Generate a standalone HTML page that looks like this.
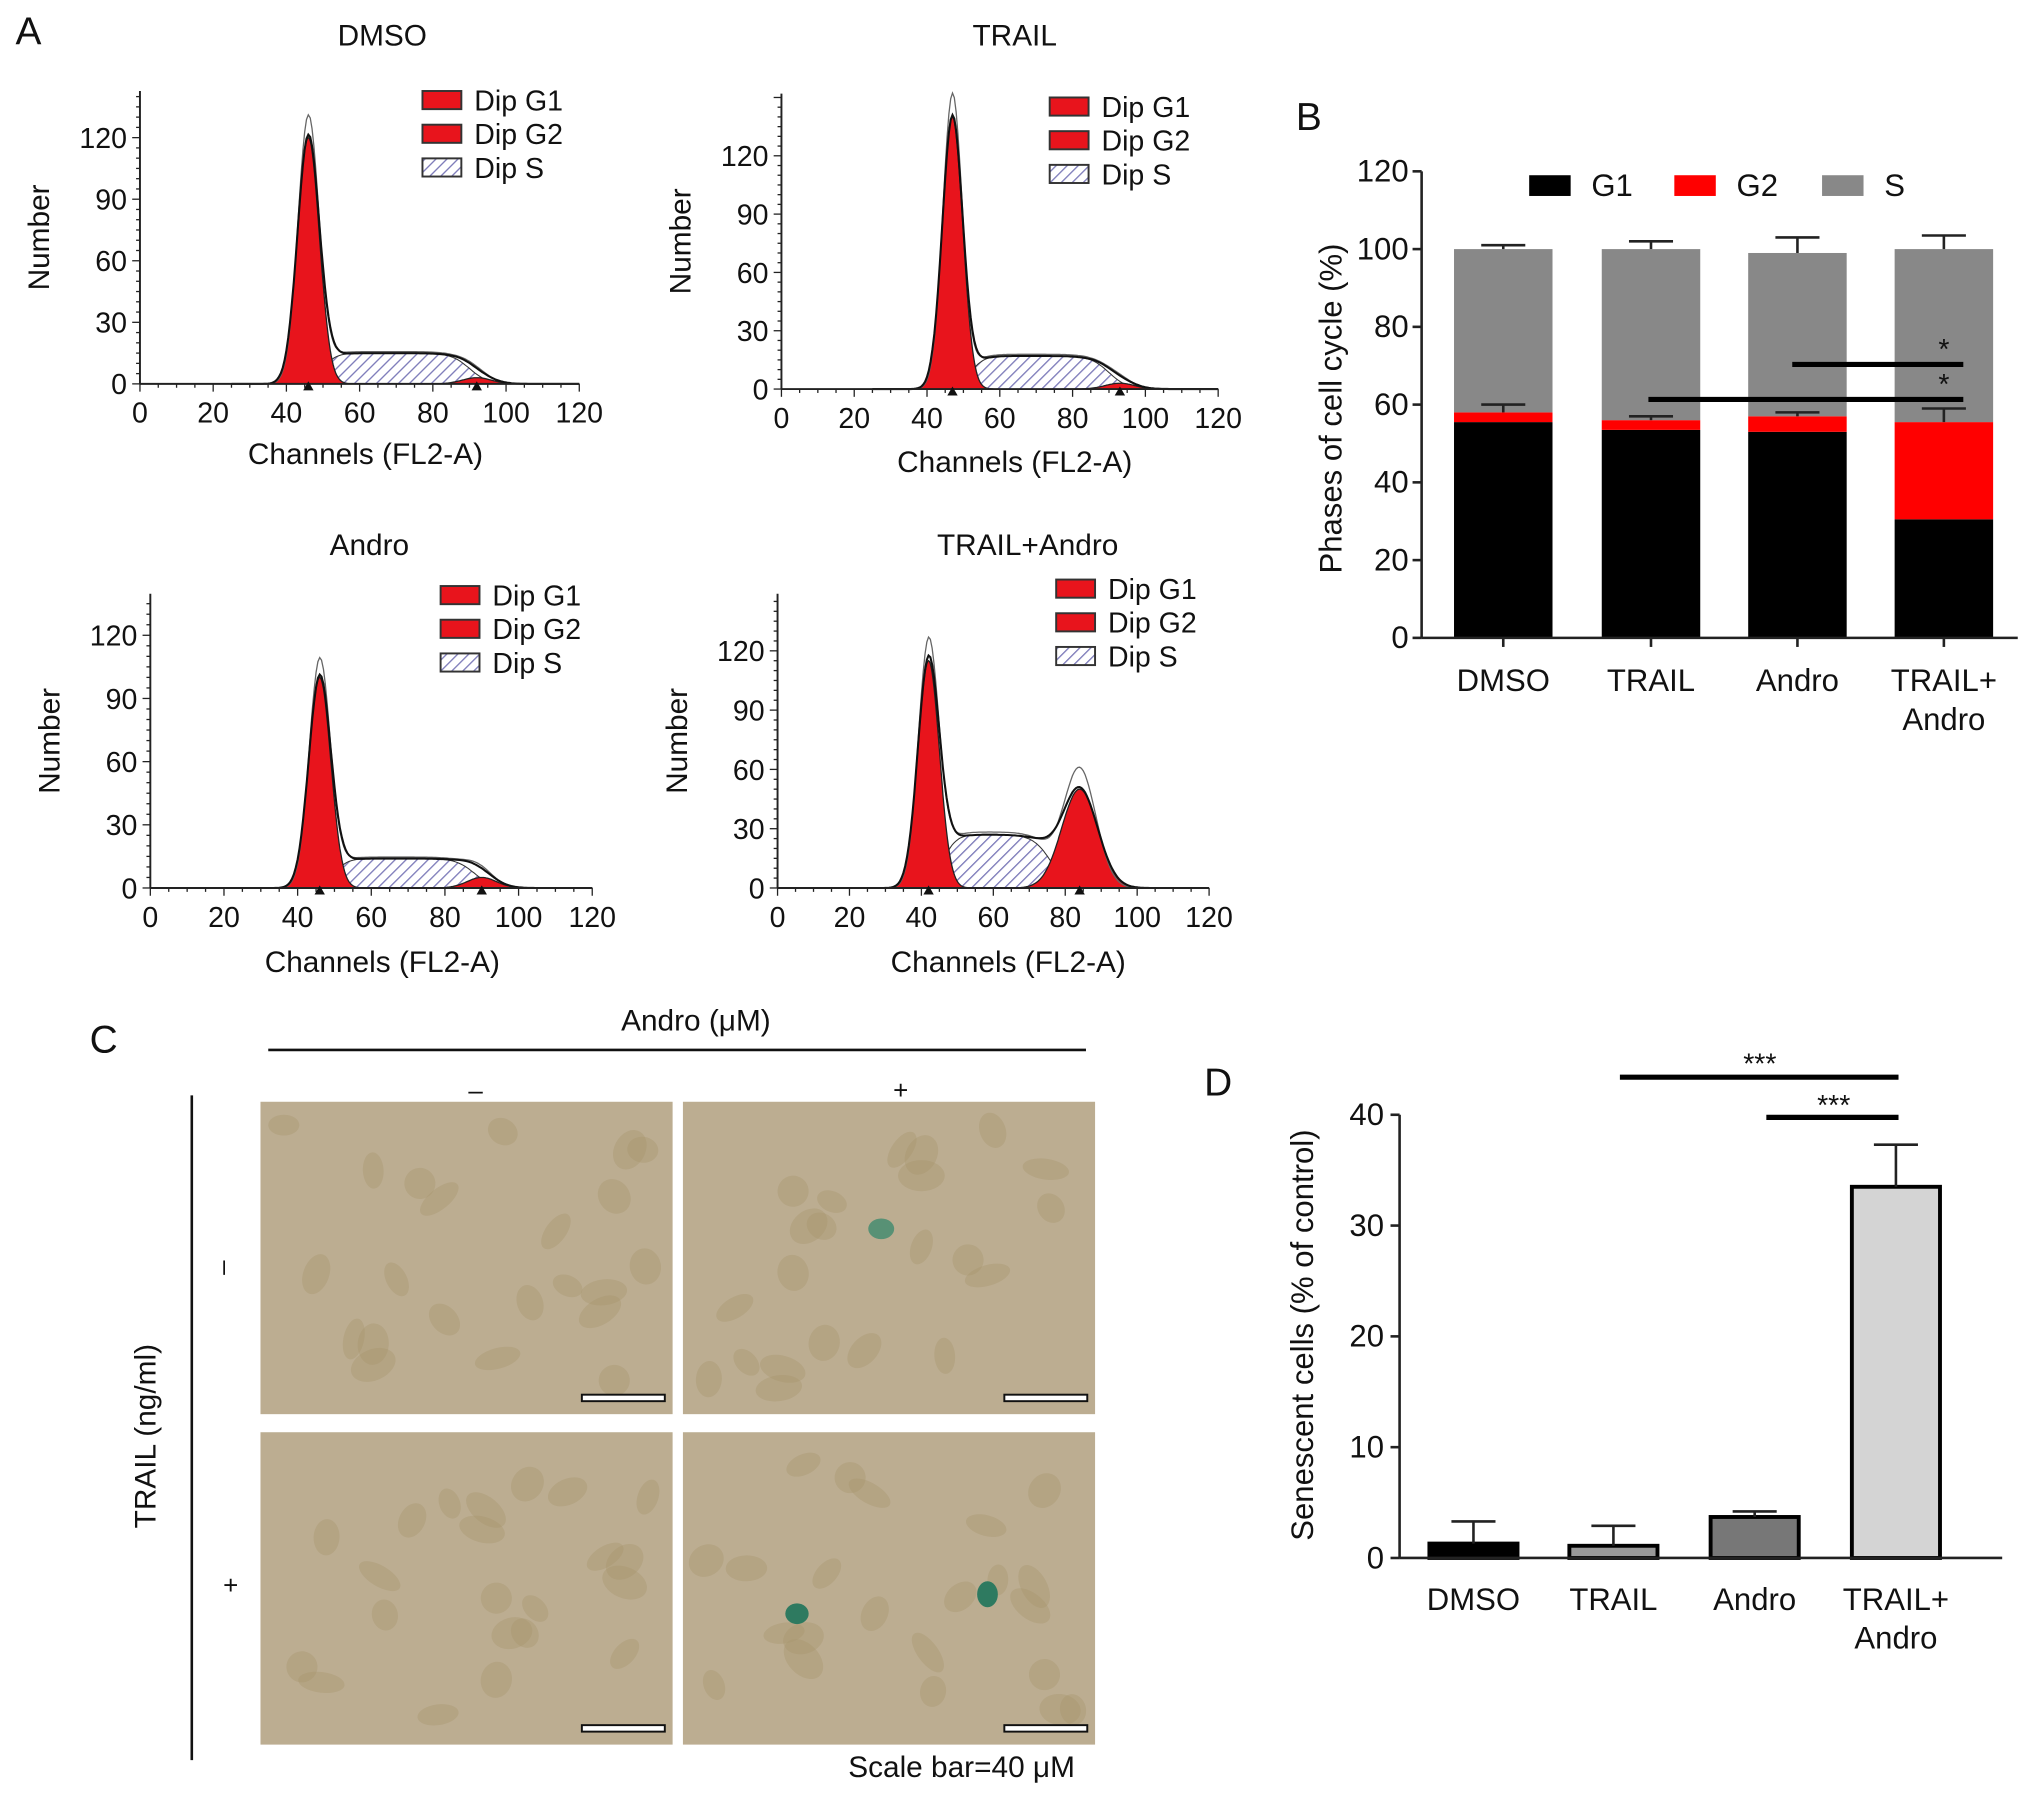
<!DOCTYPE html>
<html><head><meta charset="utf-8"><style>
html,body{margin:0;padding:0;background:#fff;}
svg{display:block;font-family:"Liberation Sans",sans-serif;}
</style></head><body>
<svg id="fig" width="2032" height="1798" viewBox="0 0 1568 1387" xmlns="http://www.w3.org/2000/svg">
<defs>
<pattern id="hatch" width="6" height="6" patternUnits="userSpaceOnUse" patternTransform="rotate(45)">
<rect width="6" height="6" fill="#fff"/><line x1="0" y1="0" x2="0" y2="6" stroke="#7a78b8" stroke-width="2"/></pattern>
</defs>
<g id="panelA"></g>
<g id="panelB"></g>
<g id="panelC"></g>
<g id="panelD"></g>
</svg>
<script>
// ---------- Panel A data (model peak parameters) ----------
const histTitles = ["DMSO", "TRAIL", "Andro", "TRAIL+Andro"];
const g1Pos = [46, 47, 46, 42];
const g1Height = [120, 140, 100, 115];
const g1Sd = [3.0, 2.8, 3.0, 3.0];
const sHeight = [15, 17, 14, 27];
const sStart = [50, 52, 50, 46];
const sEnd = [90, 90, 88, 76];
const g2Pos = [92, 93, 90, 84];
const g2Height = [3, 3, 5, 50];
const g2Sd = [4, 4, 4, 5];
const histXTicks = [0, 20, 40, 60, 80, 100, 120];
const histYTicks = [0, 30, 60, 90, 120];
// ---------- Panel B data ----------
const bCats = ["DMSO", "TRAIL", "Andro", "TRAIL+|Andro"];
const bG1 = [55.5, 53.5, 53, 30.5];
const bG2 = [2.5, 2.5, 4, 25];
const bS = [42, 44, 42, 44.5];
const bErrTop = [1, 2, 4, 3.5];
const bErrMid = [2, 1, 1, 3.5];
const bYTicks = [0, 20, 40, 60, 80, 100, 120];
// ---------- Panel D data ----------
const dCats = ["DMSO", "TRAIL", "Andro", "TRAIL+|Andro"];
const dVals = [1.3, 1.1, 3.7, 33.5];
const dErr = [2.0, 1.8, 0.5, 3.8];
const dYTicks = [0, 10, 20, 30, 40];

const NS = "http://www.w3.org/2000/svg";
function mk(parent, tag, attrs, text) {
  const e = document.createElementNS(NS, tag);
  for (const k in attrs) e.setAttribute(k, attrs[k]);
  if (text !== undefined) e.textContent = text;
  parent.appendChild(e);
  return e;
}
function txt(parent, x, y, s, size, name, anchor, extra) {
  const e = mk(parent, "text", Object.assign({x: x, y: y, "font-size": size, "text-anchor": anchor || "middle", fill: "#111"}, extra || {}), s);
  
  
  return e;
}

// ---------- Panel A ----------
const A = document.getElementById("panelA");
txt(A, 22, 34, "A", 30, "panel-label-a");
const layouts = [
  {x0:108, x1:447, y0:296, y120:106, top:70, tx:295, ty:35, lx:326, ly:70, xl:282, xly:358},
  {x0:603, x1:940, y0:300, y120:120, top:72, tx:783, ty:35, lx:810, ly:75, xl:783, xly:364},
  {x0:116, x1:457, y0:685, y120:490, top:458, tx:285, ty:428, lx:340, ly:452, xl:295, xly:750},
  {x0:600, x1:933, y0:685, y120:502, top:458, tx:793, ty:428, lx:815, ly:447, xl:778, xly:750}
];
function gauss(x, m, s, h) { return h * Math.exp(-0.5 * ((x - m) / s) ** 2); }
function splat(x, i) {
  const a = 1 / (1 + Math.exp(-(x - sStart[i]) / 1.8));
  const b = 1 / (1 + Math.exp((x - sEnd[i]) / 2.5));
  return sHeight[i] * a * b;
}
layouts.forEach((L, i) => {
  const g = mk(A, "g", {});
  
  
  const X = v => L.x0 + (L.x1 - L.x0) * v / 120;
  const Y = v => L.y0 - (L.y0 - L.y120) * v / 120;
  txt(g, L.tx, L.ty, histTitles[i], 23, "histogram-title");
  let ps = "M" + X(30) + "," + Y(0);
  for (let v = 30; v <= 110; v += 0.5) ps += " L" + X(v).toFixed(1) + "," + Y(splat(v, i)).toFixed(1);
  ps += " L" + X(110) + "," + Y(0) + "Z";
  const sp = mk(g, "path", {d: ps, fill: "url(#hatch)", stroke: "#333", "stroke-width": 0.8});
   
  [[g1Pos[i], g1Sd[i], g1Height[i], "g1-peak"], [g2Pos[i], g2Sd[i], g2Height[i], "g2-peak"]].forEach(p => {
    let d = "M" + X(p[0] - 4 * p[1]) + "," + Y(0);
    for (let v = p[0] - 4 * p[1]; v <= p[0] + 4 * p[1]; v += 0.25) d += " L" + X(v).toFixed(1) + "," + Y(gauss(v, p[0], p[1], p[2])).toFixed(1);
    d += " L" + X(p[0] + 4 * p[1]) + "," + Y(0) + "Z";
    const pk = mk(g, "path", {d: d, fill: "#e8141c", stroke: "#222", "stroke-width": 1});
     
  });
  let de = "", dr = "";
  for (let v = 25; v <= 120; v += 0.5) {
    const t = gauss(v, g1Pos[i], g1Sd[i], g1Height[i]) + gauss(v, g2Pos[i], g2Sd[i], g2Height[i]) + splat(v, i);
    de += (de ? " L" : "M") + X(v).toFixed(1) + "," + Y(t).toFixed(1);
    const t2 = gauss(v, g1Pos[i], g1Sd[i] * 0.95, g1Height[i] * 1.08) + gauss(v, g2Pos[i], g2Sd[i] * 0.9, g2Height[i] * 1.2) + splat(v, i) * 1.05;
    dr += (dr ? " L" : "M") + X(v).toFixed(1) + "," + Y(t2).toFixed(1);
  }
  const rl = mk(g, "path", {d: dr, fill: "none", stroke: "#666", "stroke-width": 1});
   
  const el = mk(g, "path", {d: de, fill: "none", stroke: "#111", "stroke-width": 1.6});
   
  mk(g, "line", {x1: L.x0, y1: L.y0, x2: L.x1, y2: L.y0, stroke: "#222", "stroke-width": 1.5});
  mk(g, "line", {x1: L.x0, y1: L.y0, x2: L.x0, y2: L.top, stroke: "#222", "stroke-width": 1.5});
  for (let v = 0; v <= 120; v += 5) mk(g, "line", {x1: X(v), y1: L.y0, x2: X(v), y2: L.y0 + (v % 20 === 0 ? 6 : 3), stroke: "#222"});
  for (let v = 0; Y(v) >= L.top; v += 5) mk(g, "line", {x1: L.x0, y1: Y(v), x2: L.x0 - (v % 30 === 0 ? 6 : 3), y2: Y(v), stroke: "#222"});
  histXTicks.forEach(v => txt(g, X(v), L.y0 + 30, String(v), 22, "x-tick-label"));
  histYTicks.forEach(v => txt(g, L.x0 - 10, Y(v) + 8, String(v), 22, "y-tick-label", "end"));
  txt(g, L.xl, L.xly, "Channels (FL2-A)", 23, "x-axis-title");
  txt(g, L.x0 - 70, (L.y0 + L.top) / 2, "Number", 23, "y-axis-title", "middle", {transform: "rotate(-90 " + (L.x0 - 70) + " " + (L.y0 + L.top) / 2 + ")"});
  [g1Pos[i], g2Pos[i]].forEach(v => mk(g, "path", {d: `M${X(v) - 4},${L.y0 + 5} L${X(v) + 4},${L.y0 + 5} L${X(v)},${L.y0 - 2}Z`, fill: "#111"}));
  ["Dip G1", "Dip G2", "Dip S"].forEach((s, k) => {
    const r = mk(g, "rect", {x: L.lx, y: L.ly + 26 * k, width: 30, height: 14, fill: k < 2 ? "#e8141c" : "url(#hatch)", stroke: "#333", "stroke-width": 1.5});
     
    txt(g, L.lx + 40, L.ly + 26 * k + 15, s, 22, "legend-entry", "start");
  });
});

// ---------- Panel B ----------
const B = document.getElementById("panelB");
txt(B, 1010, 100, "B", 30, "panel-label-b");
const bx0 = 1097, bx1 = 1557, by0 = 492, bScale = 3;
const bCenters = [1160, 1274, 1387, 1500];
const BY = v => by0 - v * bScale;
bCats.forEach((c, i) => {
  const cx = bCenters[i], w = 76;
  const segs = [[0, bG1[i], "#000", "bar-g1"], [bG1[i], bG2[i], "#f00", "bar-g2"], [bG1[i] + bG2[i], bS[i], "#888", "bar-s"]];
  segs.forEach(s => {
    const r = mk(B, "rect", {x: cx - w / 2, y: BY(s[0] + s[1]), width: w, height: s[1] * bScale, fill: s[2]});
     
  });
  const top = bG1[i] + bG2[i] + bS[i], mid = bG1[i] + bG2[i];
  [[top, bErrTop[i]], [mid, bErrMid[i]]].forEach(e => {
    mk(B, "line", {x1: cx, y1: BY(e[0]), x2: cx, y2: BY(e[0] + e[1]), stroke: "#222", "stroke-width": 2});
    mk(B, "line", {x1: cx - 17, y1: BY(e[0] + e[1]), x2: cx + 17, y2: BY(e[0] + e[1]), stroke: "#222", "stroke-width": 2});
  });
  mk(B, "line", {x1: cx, y1: by0, x2: cx, y2: by0 + 7, stroke: "#222", "stroke-width": 2});
  c.split("|").forEach((p, k) => txt(B, cx, 533 + 30 * k, p, 24, "x-tick-label"));
});
mk(B, "line", {x1: bx0, y1: by0, x2: bx1, y2: by0, stroke: "#222", "stroke-width": 2});
mk(B, "line", {x1: bx0, y1: by0, x2: bx0, y2: BY(120), stroke: "#222", "stroke-width": 2});
bYTicks.forEach(v => {
  mk(B, "line", {x1: bx0, y1: BY(v), x2: bx0 - 7, y2: BY(v), stroke: "#222", "stroke-width": 2});
  txt(B, bx0 - 10, BY(v) + 8, String(v), 24, "y-tick-label", "end");
});
txt(B, 1035, 315, "Phases of cell cycle (%)", 24, "y-axis-title", "middle", {transform: "rotate(-90 1035 315)"});
[["G1", "#000", 1180], ["G2", "#f00", 1292], ["S", "#888", 1406]].forEach(l => {
  const r = mk(B, "rect", {x: l[2], y: 135, width: 32, height: 16, fill: l[1]});
   
  txt(B, l[2] + 48, 151, l[0], 24, "legend-entry", "start");
});
mk(B, "line", {x1: 1383, y1: 281, x2: 1515, y2: 281, stroke: "#000", "stroke-width": 4});
mk(B, "line", {x1: 1272, y1: 308, x2: 1515, y2: 308, stroke: "#000", "stroke-width": 4});
txt(B, 1500, 277, "*", 22, "significance-marker");
txt(B, 1500, 304, "*", 22, "significance-marker");

// ---------- Panel C ----------
const C = document.getElementById("panelC");
txt(C, 80, 812, "C", 30, "panel-label-c");
txt(C, 537, 795, "Andro (μM)", 23, "column-header-title");
mk(C, "line", {x1: 207, y1: 810, x2: 838, y2: 810, stroke: "#111", "stroke-width": 2});
txt(C, 367, 848, "–", 20, "column-minus");
txt(C, 695, 848, "+", 20, "column-plus");
mk(C, "line", {x1: 148, y1: 845, x2: 148, y2: 1358, stroke: "#111", "stroke-width": 2});
txt(C, 112, 1100, "TRAIL (ng/ml)", 23, "row-header-title", "middle", {transform: "rotate(-90 120 1100)"});
txt(C, 178, 978, "–", 20, "row-minus", "middle", {transform: "rotate(-90 178 978)"});
txt(C, 178, 1230, "+", 20, "row-plus");
const imgs = [[201, 850, "micrograph-control"], [527, 850, "micrograph-andro"], [201, 1105, "micrograph-trail"], [527, 1105, "micrograph-trail-andro"]];
imgs.forEach((m, k) => {
  const g = mk(C, "g", {});
   
  mk(g, "rect", {x: m[0], y: m[1], width: 318, height: 241, fill: "#b9aa8e"});
  mk(g, "rect", {x: m[0], y: m[1], width: 318, height: 241, fill: "#c2b497", opacity: 0.35});
  for (let j = 0; j < 22; j++) {
    const cx = m[0] + 18 + ((j * j * 53 + j * 71 + k * 97) % 285);
    const cy = m[1] + 18 + ((j * j * 37 + j * 113 + k * 59) % 205);
    const rot = (j * 47 + k * 23) % 180;
    mk(g, "ellipse", {cx: cx, cy: cy, rx: 12 + (j % 4) * 2, ry: 8 + (j % 3) * 2, fill: "#a8976f", opacity: 0.4, transform: `rotate(${rot} ${cx} ${cy})`});
  }
  if (k === 1) mk(g, "ellipse", {cx: 680, cy: 948, rx: 10, ry: 8, fill: "#3f8a6e", opacity: 0.8});
  if (k === 3) { mk(g, "ellipse", {cx: 615, cy: 1245, rx: 9, ry: 8, fill: "#2e7a60"}); mk(g, "ellipse", {cx: 762, cy: 1230, rx: 8, ry: 10, fill: "#2e7a60"}); }
  const sb = mk(g, "rect", {x: m[0] + 248, y: m[1] + 226, width: 64, height: 5, fill: "#fff", stroke: "#111", "stroke-width": 1.5});
   
});
txt(C, 742, 1371, "Scale bar=40 μM", 23, "scale-bar-caption");

// ---------- Panel D ----------
const D = document.getElementById("panelD");
txt(D, 940, 845, "D", 30, "panel-label-d");
const dx0 = 1080, dx1 = 1545, dy0 = 1202, dScale = 8.55;
const dCenters = [1137, 1245, 1354, 1463];
const dFill = ["#000", "#999", "#777", "#d4d4d4"];
const DY = v => dy0 - v * dScale;
dCats.forEach((c, i) => {
  const cx = dCenters[i], w = 68;
  const r = mk(D, "rect", {x: cx - w / 2, y: DY(dVals[i]), width: w, height: dVals[i] * dScale, fill: dFill[i], stroke: "#000", "stroke-width": 3});
   
  mk(D, "line", {x1: cx, y1: DY(dVals[i]), x2: cx, y2: DY(dVals[i] + dErr[i]), stroke: "#222", "stroke-width": 2});
  mk(D, "line", {x1: cx - 17, y1: DY(dVals[i] + dErr[i]), x2: cx + 17, y2: DY(dVals[i] + dErr[i]), stroke: "#222", "stroke-width": 2});
  c.split("|").forEach((p, k) => txt(D, cx, 1242 + 30 * k, p, 24, "x-tick-label"));
});
mk(D, "line", {x1: dx0, y1: dy0, x2: dx1, y2: dy0, stroke: "#222", "stroke-width": 2});
mk(D, "line", {x1: dx0, y1: dy0, x2: dx0, y2: DY(40), stroke: "#222", "stroke-width": 2});
dYTicks.forEach(v => {
  mk(D, "line", {x1: dx0, y1: DY(v), x2: dx0 - 7, y2: DY(v), stroke: "#222", "stroke-width": 2});
  txt(D, dx0 - 12, DY(v) + 8, String(v), 24, "y-tick-label", "end");
});
txt(D, 1013, 1030, "Senescent cells (% of control)", 24, "y-axis-title", "middle", {transform: "rotate(-90 1013 1030)"});
mk(D, "line", {x1: 1250, y1: 831, x2: 1465, y2: 831, stroke: "#000", "stroke-width": 4});
mk(D, "line", {x1: 1363, y1: 862, x2: 1465, y2: 862, stroke: "#000", "stroke-width": 4});
txt(D, 1358, 828, "***", 22, "significance-marker");
txt(D, 1415, 860, "***", 22, "significance-marker");
</script>
</body></html>
